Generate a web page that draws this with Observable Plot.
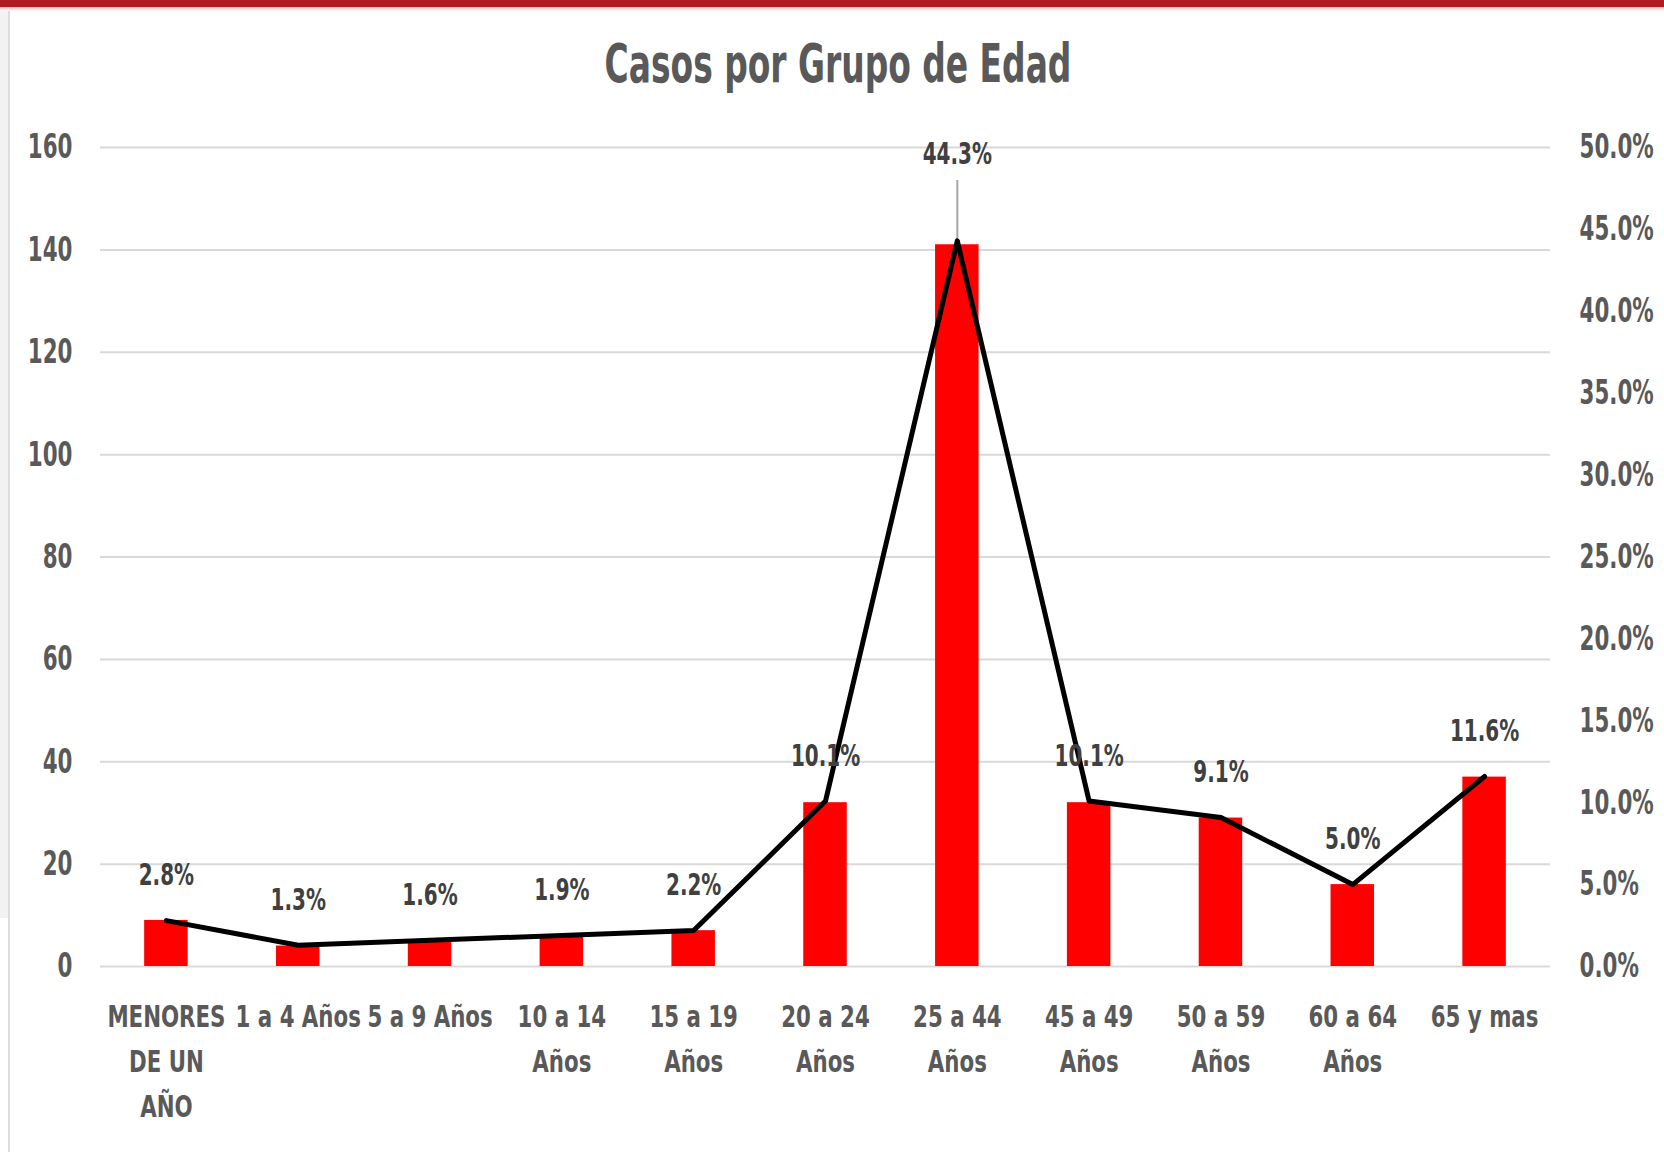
<!DOCTYPE html>
<html>
<head>
<meta charset="utf-8">
<script src="https://cdn.jsdelivr.net/npm/d3@7"></script>
<script src="https://cdn.jsdelivr.net/npm/@observablehq/plot@0.6"></script>
<style>
  body { margin: 0; background: #fff; width: 1664px; height: 1152px; overflow: hidden; position: relative;
         font-family: "DejaVu Sans Condensed", "DejaVu Sans", sans-serif; font-weight: bold; }
  #topbar { position: absolute; left: 0; top: 0; width: 1664px; height: 7px; background: #b01b22; }
  #topfade { position: absolute; left: 0; top: 7px; width: 1664px; height: 4px; background: linear-gradient(#e9b5b8, #fff); }
  #leftstrip { position: absolute; left: 0; top: 11px; width: 8px; height: 907px; background: #f2f2f2; }
  #leftline { position: absolute; left: 8px; top: 11px; width: 2px; height: 1141px; background: #dcdcdc; }
  #title { position: absolute; left: 438px; width: 800px; top: 37px; text-align: center; color: #595959;
           font-size: 53px; line-height: 53px; white-space: nowrap; transform: scaleX(0.69); transform-origin: center; }
  #chart { position: absolute; left: 0; top: 110px; }
  #chart svg text { font-family: "DejaVu Sans Condensed", "DejaVu Sans", sans-serif; font-weight: bold; }
</style>
</head>
<body>
<div id="topbar"></div>
<div id="topfade"></div>
<div id="leftstrip"></div>
<div id="leftline"></div>
<div id="title">Casos por Grupo de Edad</div>
<div id="chart"></div>
<script>
const categories = ["MENORES\nDE UN\nAÑO", "1 a 4 Años", "5 a 9 Años", "10 a 14\nAños", "15 a 19\nAños",
  "20 a 24\nAños", "25 a 44\nAños", "45 a 49\nAños", "50 a 59\nAños", "60 a 64\nAños", "65 y mas"];
const casos = [9, 4, 5, 6, 7, 32, 141, 32, 29, 16, 37];
const porcentaje = [2.8, 1.3, 1.6, 1.9, 2.2, 10.1, 44.3, 10.1, 9.1, 5.0, 11.6];
const leftTicks = [0, 20, 40, 60, 80, 100, 120, 140, 160];
const rightTicks = [0, 5, 10, 15, 20, 25, 30, 35, 40, 45, 50];

const leftMax = d3.max(leftTicks);
const rightMax = d3.max(rightTicks);
const k = leftMax / rightMax;
const data = categories.map((cat, i) => ({cat, casos: casos[i], pct: porcentaje[i]}));
const maxPct = d3.max(porcentaje);
const fmt = v => v.toFixed(1) + "%";

const chart = Plot.plot({
  width: 1664,
  height: 1042,
  marginTop: 37,
  marginBottom: 186,
  marginLeft: 100,
  marginRight: 114,
  style: {background: "transparent", overflow: "visible"},
  x: {domain: categories, paddingInner: 0.67, paddingOuter: 0.335, round: false, label: null},
  y: {domain: [0, leftMax], label: null},
  marks: [
    Plot.gridY(leftTicks, {stroke: "#d9d9d9", strokeOpacity: 1, strokeWidth: 2}),
    Plot.barY(data, {x: "cat", y: "casos", fill: "#ff0000"}),
    Plot.ruleX(data, {filter: d => d.pct === maxPct, x: "cat", y1: () => leftMax, y2: d => d.pct * k,
      insetTop: 33, stroke: "#a6a6a6", strokeWidth: 2}),
    Plot.lineY(data, {x: "cat", y: d => d.pct * k, stroke: "#000", strokeWidth: 5}),
    Plot.text(data, {filter: d => d.pct !== maxPct, x: "cat", y: d => d.pct * k, text: d => fmt(d.pct),
      dy: -45, fontSize: 30, fill: "#404040"}),
    Plot.text(data, {filter: d => d.pct === maxPct, x: "cat", frameAnchor: "top", lineAnchor: "middle",
      text: d => fmt(d.pct), dy: 7, fontSize: 30, fill: "#404040"}),
    Plot.axisY(leftTicks, {anchor: "left", tickSize: 0, tickPadding: 28, fontSize: 34, fill: "#595959", label: null}),
    Plot.axisY(rightTicks.map(v => v * k), {anchor: "right", tickSize: 0, tickPadding: 29, fontSize: 34,
      fill: "#595959", label: null, tickFormat: v => fmt(v / k)}),
    Plot.axisX({anchor: "bottom", tickSize: 0, tickPadding: 29, fontSize: 30, lineHeight: 1.5,
      fill: "#595959", label: null})
  ]
});
document.getElementById("chart").appendChild(chart);

// Narrow the glyphs horizontally (the reference uses a compressed font), keeping each text's anchor point fixed.
chart.querySelectorAll("text").forEach(t => {
  const g = t.closest("g[aria-label]");
  const role = g ? g.getAttribute("aria-label") : "";
  const s = role.startsWith("x-axis") ? 0.79 : role.startsWith("y-axis") ? 0.7 : 0.74;
  const tr = t.getAttribute("transform") || "";
  const ax = +(t.getAttribute("x") || 0);
  t.setAttribute("transform", `${tr} translate(${ax},0) scale(${s},1) translate(${-ax},0)`);
});
</script>
</body>
</html>
